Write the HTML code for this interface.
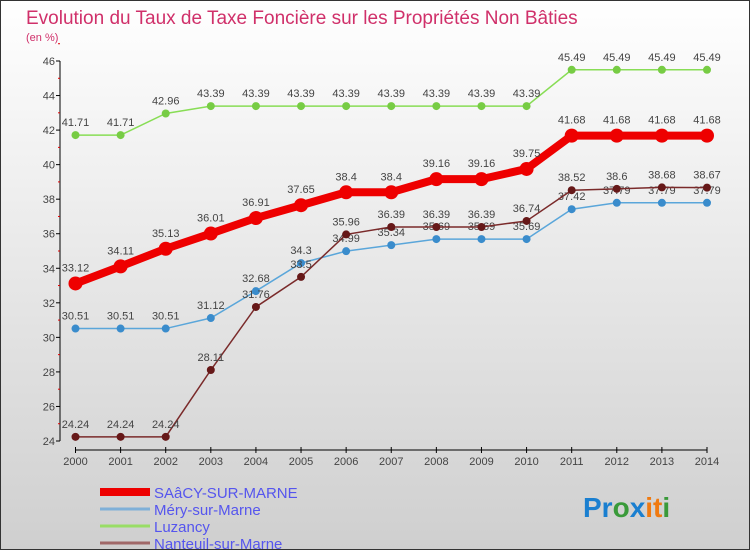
<!DOCTYPE html>
<html><head><meta charset="utf-8"><style>
body{margin:0;width:750px;height:550px;overflow:hidden;font-family:"Liberation Sans",sans-serif}
svg{display:block}
</style></head><body>
<svg id="c" width="750" height="550">
<defs><linearGradient id="bg" x1="0" y1="0" x2="0" y2="1"><stop offset="0" stop-color="#ffffff"/><stop offset="1" stop-color="#cfcfcf"/></linearGradient></defs>
<rect x="0.5" y="0.5" width="749" height="549" fill="url(#bg)" stroke="#333"/>
<text x="26" y="24" font-size="19" fill="#d0306a">Evolution du Taux de Taxe Foncière sur les Propriétés Non Bâties</text>
<text x="26" y="41" font-size="11" fill="#d0306a">(en %)</text>
<g id="axes"></g><g id="series"></g><g id="legend"></g>
<text x="583" y="517" font-size="28" font-weight="bold"><tspan fill="#1a7fd0">Pr</tspan><tspan fill="#3a9a3a">o</tspan><tspan fill="#1a7fd0">x</tspan><tspan fill="#f07a10">it</tspan><tspan fill="#3a9a3a">i</tspan></text>
</svg>
<script>
const years=[2000,2001,2002,2003,2004,2005,2006,2007,2008,2009,2010,2011,2012,2013,2014];
const yTicks=[24,26,28,30,32,34,36,38,40,42,44,46];
const saacy=[33.12,34.11,35.13,36.01,36.91,37.65,38.4,38.4,39.16,39.16,39.75,41.68,41.68,41.68,41.68];
const mery=[30.51,30.51,30.51,31.12,32.68,34.3,34.99,35.34,35.69,35.69,35.69,37.42,37.79,37.79,37.79];
const luzancy=[41.71,41.71,42.96,43.39,43.39,43.39,43.39,43.39,43.39,43.39,43.39,45.49,45.49,45.49,45.49];
const nanteuil=[24.24,24.24,24.24,28.11,31.76,33.5,35.96,36.39,36.39,36.39,36.74,38.52,38.6,38.68,38.67];
const names=["SAâCY-SUR-MARNE","Méry-sur-Marne","Luzancy","Nanteuil-sur-Marne"];
const NS="http://www.w3.org/2000/svg";
const X=i=>75.5+i*(707-75.5)/14;
const Y=v=>441-(v-24)*(380/22);
function mk(p,t,a){const e=document.createElementNS(NS,t);for(const k in a)e.setAttribute(k,a[k]);p.appendChild(e);return e;}
const ax=document.getElementById('axes');
const yl=mk(ax,'line',{x1:60,y1:61,x2:60,y2:441,stroke:'#000'});


yTicks.forEach(v=>{
 mk(ax,'line',{x1:56,y1:Y(v),x2:60,y2:Y(v),stroke:'#000'});
 mk(ax,'line',{x1:58,y1:Y(v+1),x2:60,y2:Y(v+1),stroke:'#d00'});
 const t=mk(ax,'text',{x:55,y:Y(v)+4,'font-size':11,'text-anchor':'end',fill:'#444'});t.textContent=v;
 
 
});
const xl=mk(ax,'line',{x1:X(0),y1:450,x2:X(14),y2:450,stroke:'#000'});


years.forEach((y,i)=>{
 mk(ax,'line',{x1:X(i),y1:447,x2:X(i),y2:453,stroke:'#000'});
 const t=mk(ax,'text',{x:X(i),y:465,'font-size':11,'text-anchor':'middle',fill:'#444'});t.textContent=y;
 
 
});
const sg=document.getElementById('series');
function draw(data,color,lw,r,dot,name){
 const g=mk(sg,'g',{});
 
 
 mk(g,'polyline',{points:data.map((v,i)=>X(i)+','+Y(v)).join(' '),fill:'none',stroke:color,'stroke-width':lw});
 data.forEach((v,i)=>{
  const c=mk(g,'circle',{cx:X(i),cy:Y(v),r:r,fill:dot});
  
  
  const t=mk(g,'text',{x:X(i),y:Y(v)-9-(r>5?3:0),'font-size':11,'text-anchor':'middle',fill:'#444'});t.textContent=v;
  
  
 });
}
draw(luzancy,'#88dd55',1.5,4,'#77cc44','series-luzancy');
draw(mery,'#5aa6da',1.5,4,'#3a8ccc','series-mery');
draw(nanteuil,'#7a2a2a',1.5,4,'#661818','series-nanteuil');
draw(saacy,'#ee0000',8,7,'#ee0000','series-saacy');
const lg=document.getElementById('legend');
const cols=['#ee0000','#7fb0d8','#99dd66','#a06868'];const ws=[8,3,3,3];
names.forEach((n,i)=>{
 const y=492+i*17;
 const l=mk(lg,'line',{x1:100,y1:y,x2:150,y2:y,stroke:cols[i],'stroke-width':ws[i]});
 
 
 const t=mk(lg,'text',{x:154,y:y+6,'font-size':15,fill:'#5555ee'});t.textContent=n;
 
 
});
</script>
</body></html>
